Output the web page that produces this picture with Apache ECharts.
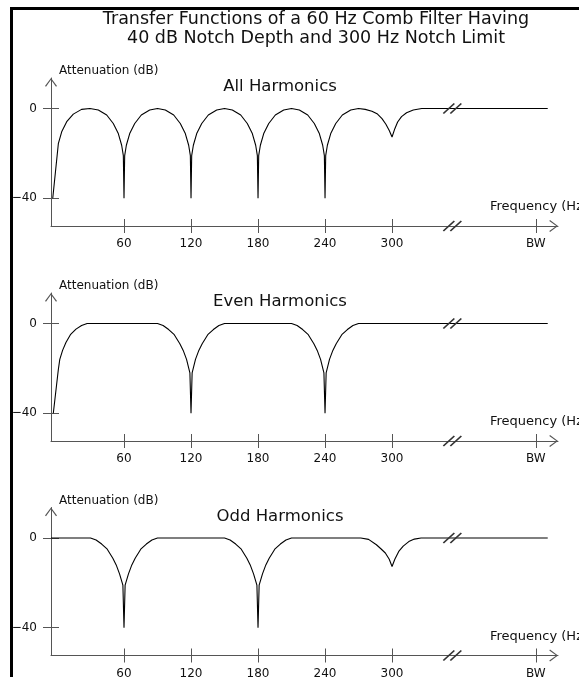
<!DOCTYPE html>
<html><head><meta charset="utf-8">
<script src="https://cdn.jsdelivr.net/npm/echarts@6/dist/echarts.min.js"></script>
<style>html,body{margin:0;padding:0;background:#fff;overflow:hidden}#c{width:579px;height:677px}</style>
</head><body><div id="c"></div>
<script>
// ---- text ----
const mainTitle = ['Transfer Functions of a 60 Hz Comb Filter Having', '40 dB Notch Depth and 300 Hz Notch Limit'];
const panelTitles = ['All Harmonics', 'Even Harmonics', 'Odd Harmonics'];
const yAxisName = 'Attenuation (dB)';
const xAxisName = 'Frequency (Hz)';

// ---- ticks ----
const xTickValues = [60, 120, 180, 240, 300, 428.7];
const xTickLabels = ['60', '120', '180', '240', '300', 'BW'];
const yTickValues = [0, -40];
const yTickLabels = ['0', '\u221240'];
const breakAt = 354;

// ---- series (frequency Hz, attenuation dB) ----
const allHarmonics = [
  [-3.8,-40],[1.2,-15.7],[4.2,-10.4],[8.7,-5.9],[14.6,-2.5],[22,-0.4],[29.5,0],[37,-0.7],[44.5,-2.9],[50.4,-6.7],[54.9,-11.2],[57.9,-16.4],[59.4,-21],[60,-40],
  [60.6,-21],[62.1,-16.4],[65.1,-11.2],[69.6,-6.7],[75.5,-2.9],[83,-0.7],[90,0],[97,-0.7],[104.5,-2.9],[110.4,-6.7],[114.9,-11.2],[117.9,-16.4],[119.4,-21],[120,-40],
  [120.6,-21],[122.1,-16.4],[125.1,-11.2],[129.6,-6.7],[135.5,-2.9],[143,-0.7],[150,0],[157,-0.7],[164.5,-2.9],[170.4,-6.7],[174.9,-11.2],[177.9,-16.4],[179.4,-21],[180,-40],
  [180.6,-21],[182.1,-16.4],[185.1,-11.2],[189.6,-6.7],[195.5,-2.9],[203,-0.7],[210,0],[217,-0.7],[224.5,-2.9],[230.4,-6.7],[234.9,-11.2],[237.9,-16.4],[239.4,-21],[240,-40],
  [240.6,-21],[242.1,-16.4],[245.1,-11.2],[249.6,-6.7],[255.5,-2.9],[263,-0.7],[270,0],[276,-0.4],[282,-1.2],[287,-2.5],[291,-4.5],[294.5,-7],[297.5,-9.8],[300,-12.7],
  [302.5,-9],[305,-6],[308.5,-3.6],[313,-1.9],[319,-0.7],[326.6,0],[439.4,0]
];
const evenHarmonics = [
  [-3.3,-40],[1.2,-20.5],[2.5,-16],[5,-12],[8,-8.5],[12,-5],[17,-2.5],[22,-0.9],[27,0],
  [90,0],[95,-0.9],[100,-2.7],[105,-5],[110,-9],[113,-12],[116,-16],[119,-22],[120,-40],[121,-22],[124,-16],[127,-12],[130,-9],[135,-5],[140,-2.7],[145,-0.9],[150,0],
  [210,0],[215,-0.9],[220,-2.7],[225,-5],[230,-9],[233,-12],[236,-16],[239,-22],[240,-40],[241,-22],[244,-16],[247,-12],[250,-9],[255,-5],[260,-2.7],[265,-0.9],[270,0],
  [439.4,0]
];
const oddHarmonics = [
  [-5.4,0],[30,0],[35,-0.9],[40,-2.7],[45,-5],[50,-9],[53,-12],[56,-16],[59,-21],[60,-40],[61,-21],[64,-16],[67,-12],[70,-9],[75,-5],[80,-2.7],[85,-0.9],[90,0],
  [150,0],[155,-0.9],[160,-2.7],[165,-5],[170,-9],[173,-12],[176,-16],[179,-21],[180,-40],[181,-21],[184,-16],[187,-12],[190,-9],[195,-5],[200,-2.7],[205,-0.9],[210,0],
  [272,0],[279,-0.6],[286,-3],[290,-4.8],[294,-6.7],[297.5,-9.5],[300,-12.7],[302.5,-9.5],[306,-6],[310,-3.6],[315,-1.6],[320,-0.5],[326,0],[439.4,0]
];
const panels = [allHarmonics, evenHarmonics, oddHarmonics];

// ---- layout / style ----
const X_MIN = -5.37, X_MAX = 448.6, Y_MIN = -52.4, Y_MAX = 13.6;
const gridTops = [78, 293, 507.5];
const GRID_H = 148;
const FONT = "'DejaVu Sans', sans-serif";
const AXIS_COLOR = '#555';
const TEXT_COLOR = '#111';
const chevron = 'path://M0,8 L6,0 L12,8 L11,8.7 L6,1.7 L1,8.7 Z';
const slashes = 'path://M0,10 L11,0 L12.2,0.9 L1.2,10.9 Z M7,10 L18,0 L19.2,0.9 L8.2,10.9 Z';

const grids = [], xAxes = [], yAxes = [], series = [], graphics = [];
const lineStyle = { color: AXIS_COLOR, width: 1 };

panels.forEach((data, i) => {
  grids.push({ left: 51, right: 21, top: gridTops[i], height: GRID_H, outerBoundsMode: 'none', containLabel: false });
  const xi = xAxes.length, yi = yAxes.length;
  xAxes.push({
    gridIndex: i, type: 'value', min: X_MIN, max: X_MAX, position: 'bottom',
    axisLine: { show: true, onZero: false, lineStyle, symbol: ['none', chevron], symbolSize: [12, 8.7], symbolOffset: [0, -4.35] },
    axisTick: { show: true, customValues: xTickValues, length: 7, inside: false, lineStyle },
    axisLabel: { show: true, customValues: xTickValues, margin: 12, fontSize: 12, fontFamily: FONT, color: TEXT_COLOR,
      formatter: v => xTickLabels[xTickValues.indexOf(v)] ?? '' },
    splitLine: { show: false }
  });
  xAxes.push({
    gridIndex: i, type: 'value', min: X_MIN, max: X_MAX, position: 'bottom',
    axisLine: { show: false, onZero: false },
    axisTick: { show: true, customValues: xTickValues, length: 7, inside: true, lineStyle },
    axisLabel: { show: false }, splitLine: { show: false }
  });
  yAxes.push({
    gridIndex: i, type: 'value', min: Y_MIN, max: Y_MAX, position: 'left',
    axisLine: { show: true, onZero: false, lineStyle, symbol: ['none', chevron], symbolSize: [12, 8.7], symbolOffset: [0, -4.35] },
    axisTick: { show: true, customValues: yTickValues, length: 8, inside: false, lineStyle },
    axisLabel: { show: true, customValues: yTickValues, margin: 14, fontSize: 12, fontFamily: FONT, color: TEXT_COLOR,
      formatter: v => yTickLabels[yTickValues.indexOf(v)] ?? '' },
    splitLine: { show: false }
  });
  yAxes.push({
    gridIndex: i, type: 'value', min: Y_MIN, max: Y_MAX, position: 'left',
    axisLine: { show: false, onZero: false },
    axisTick: { show: true, customValues: yTickValues, length: 8, inside: true, lineStyle },
    axisLabel: { show: false }, splitLine: { show: false }
  });
  series.push({
    type: 'line', xAxisIndex: xi, yAxisIndex: yi, data, showSymbol: false, symbol: 'none',
    lineStyle: { color: '#000', width: 1.1 }, animation: false, silent: true,
    markPoint: {
      symbol: slashes, symbolSize: [19.2, 10.9], silent: true, animation: false,
      itemStyle: { color: '#333' }, label: { show: false },
      data: [{ coord: [breakAt, 0] }, { coord: [breakAt, Y_MIN] }]
    }
  });
  const off = gridTops[i] - gridTops[0];
  graphics.push({ type: 'text', x: 59, y: 71 + off, style: { text: yAxisName, fill: TEXT_COLOR, font: '12px ' + FONT, textVerticalAlign: 'middle' } });
  graphics.push({ type: 'text', x: 280, y: 87 + off, style: { text: panelTitles[i], fill: TEXT_COLOR, font: '16.5px ' + FONT, textAlign: 'center', textVerticalAlign: 'middle' } });
  graphics.push({ type: 'text', x: 490, y: 207 + off, style: { text: xAxisName, fill: TEXT_COLOR, font: '13px ' + FONT, textVerticalAlign: 'middle' } });
});

graphics.push({ type: 'text', x: 316, y: 19, style: { text: mainTitle[0], fill: TEXT_COLOR, font: '17.5px ' + FONT, textAlign: 'center', textVerticalAlign: 'middle' } });
graphics.push({ type: 'text', x: 316, y: 38, style: { text: mainTitle[1], fill: TEXT_COLOR, font: '17.5px ' + FONT, textAlign: 'center', textVerticalAlign: 'middle' } });
graphics.push({ type: 'rect', shape: { x: 11.5, y: 8.5, width: 700, height: 800 }, style: { fill: 'none', stroke: '#000', lineWidth: 3 }, silent: true });

const chart = echarts.init(document.getElementById('c'), null, { renderer: 'canvas' });
chart.setOption({
  animation: false,
  backgroundColor: '#fff',
  grid: grids, xAxis: xAxes, yAxis: yAxes, series,
  graphic: graphics
});
</script></body></html>
